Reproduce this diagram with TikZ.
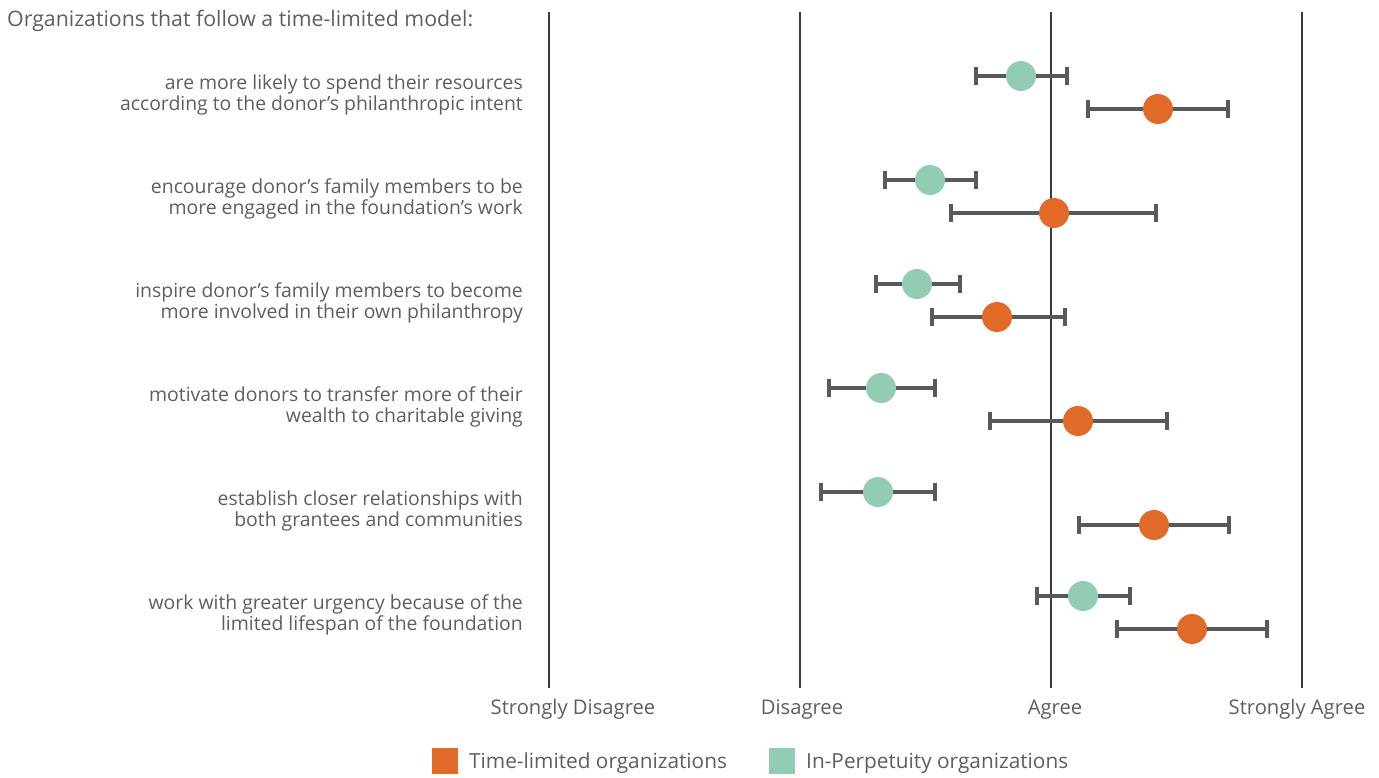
\documentclass[tikz,border=0pt]{standalone}
\usepackage{fontspec}
\setmainfont{Open Sans}
\usetikzlibrary{arrows.meta}
\definecolor{timelim}{HTML}{E26A28}
\definecolor{perpet}{HTML}{92CDB3}
\definecolor{bargray}{HTML}{58595B}
\definecolor{txtgray}{HTML}{5E5E60}
\definecolor{axisgray}{HTML}{3A3A3A}

\tikzset{
  dot/.style={circle,inner sep=0pt,minimum size=30pt},
  errbar/.style={draw=bargray,line width=4pt,{Bar[width=18pt]}-{Bar[width=18pt]}},
  rowtext/.style={anchor=east,align=right,inner sep=0pt,text=txtgray,font=\fontsize{19.4}{21.5}\selectfont},
  ticktext/.style={anchor=base,inner sep=0pt,text=txtgray,font=\fontsize{20.2}{22}\selectfont},
  keytext/.style={anchor=west,inner sep=0pt,text=txtgray,font=\fontsize{20.8}{22}\selectfont},
  keybox/.style={minimum size=26pt,inner sep=0pt}
}

\begin{document}
\begin{tikzpicture}[x=1pt,y=-1pt]
\useasboundingbox (0,0) rectangle (1379,777);
% scale lines
\foreach \k/\xx/\lx/\text in {1/549/573/Strongly Disagree,2/800/802/Disagree,3/1051/1055/Agree,4/1302/1297/Strongly Agree}{
  \draw[axisgray,line width=1.1pt] (\xx,12) -- (\xx,688);
  \node[ticktext] (tick\k) at (\lx,714) {\text};
}
\node[anchor=base west,inner sep=0pt,text=txtgray,font=\fontsize{21.3}{22}\selectfont] (title) at (7,26) {Organizations that follow a time-limited model:};
% statements
\foreach \k/\text in {1/{are more likely to spend their resources\\according to the donor’s philanthropic intent},
  2/{encourage donor’s family members to be\\more engaged in the foundation’s work},
  3/{inspire donor’s family members to become\\more involved in their own philanthropy},
  4/{motivate donors to transfer more of their\\wealth to charitable giving},
  5/{establish closer relationships with\\both grantees and communities},
  6/{work with greater urgency because of the\\limited lifespan of the foundation}}
  \node[rowtext] (stmt\k) at (523,{95+104*(\k-1)}) {\text};
% means and ranges
\foreach \k/\pmean/\plow/\phigh/\tmean/\tlow/\thigh in {1/1021/975/1068/1158/1087/1229,
  2/930/884/977/1054/950/1157,
  3/917/875/961/997/931/1066,
  4/881/828/936/1078/989/1168,
  5/878/820/936/1154/1078/1230,
  6/1083/1036/1131/1192/1116/1268}{
  \pgfmathsetmacro{\yy}{76+104*(\k-1)}
  \coordinate (plo\k) at (\plow-1,\yy);
  \coordinate (phi\k) at (\phigh+1,\yy);
  \coordinate (tlo\k) at (\tlow-1,\yy+33);
  \coordinate (thi\k) at (\thigh+1,\yy+33);
  \draw[errbar] (plo\k) -- (phi\k);
  \draw[errbar] (tlo\k) -- (thi\k);
  \node[dot,fill=perpet] (pdot\k) at (\pmean,\yy) {};
  \node[dot,fill=timelim] (tdot\k) at (\tmean,\yy+33) {};
}
% key
\node[keybox,fill=timelim] (tkey) at (445,761) {};
\node[keytext] (tkeytext) at (469,763) {Time-limited organizations};
\node[keybox,fill=perpet] (pkey) at (782,761) {};
\node[keytext] (pkeytext) at (806,763) {In-Perpetuity organizations};
\end{tikzpicture}
\end{document}
